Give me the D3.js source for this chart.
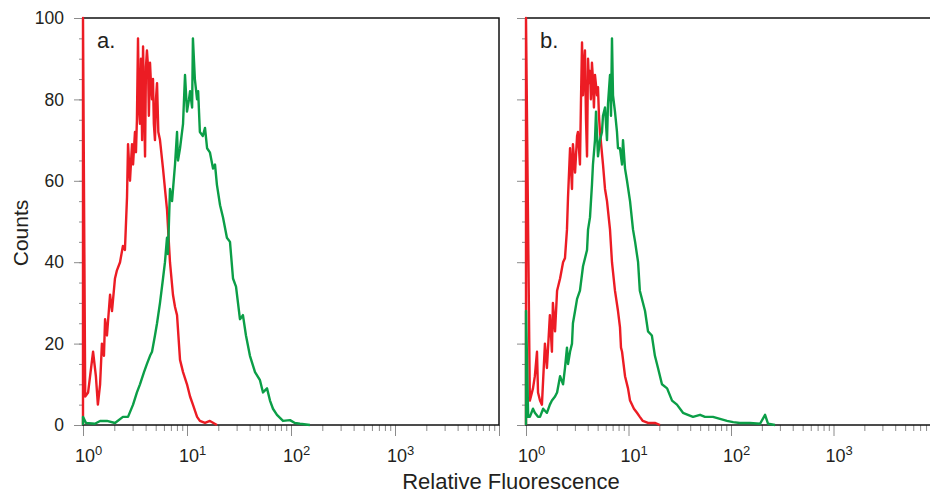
<!DOCTYPE html>
<html>
<head>
<meta charset="utf-8">
<script src="https://d3js.org/d3.v7.min.js"></script>
<style>
body { margin: 0; background: #fff; }
text { font-family: "Liberation Sans", Arial, sans-serif; fill: #231f20; }
</style>
</head>
<body>
<script>
// [relative fluorescence, counts]
var redA = [[1,120],[1.05,7],[1.12,8],[1.17,12],[1.25,18],[1.33,12],[1.39,5],[1.46,10],[1.52,20],[1.59,17],
  [1.63,26],[1.70,22],[1.82,32],[1.90,28],[2.03,36],[2.12,38],[2.27,40],[2.42,44],[2.53,43],[2.65,56],
  [2.71,69],[2.83,60],[2.96,69],[3.03,64],[3.16,72],[3.23,67],[3.30,75],[3.38,95],[3.45,78],[3.53,74],
  [3.61,90],[3.70,70],[3.78,93],[3.86,80],[3.95,66],[4.03,88],[4.12,92],[4.22,88],[4.30,76],[4.41,89],
  [4.50,84],[4.61,80],[4.71,85],[4.80,74],[4.92,70],[5.03,80],[5.15,84],[5.30,72],[5.50,70],[5.88,63],
  [6.14,58],[6.42,53],[6.86,40],[7.33,32],[7.67,29],[8.02,27],[8.57,16],[9.16,13],[10,10],[10.7,7],
  [11.4,5],[12.5,2],[13.3,1],[14.9,0.5],[16.6,1],[19.4,0]];

var greenA = [[1,2],[1.07,0.5],[1.30,0.3],[1.46,1],[1.70,1],[2.03,0.5],[2.42,2],[2.71,2],[3.03,5],[3.30,8],
  [3.53,10],[3.86,13],[4.12,15],[4.41,17],[4.61,18],[4.92,22],[5.15,25],[5.50,30],[5.88,36],[6.14,40],
  [6.42,46],[6.56,42],[6.86,58],[7.18,55],[7.67,64],[8.02,72],[8.19,65],[8.57,68],[9.16,74],[9.57,86],
  [10,77],[10.45,80],[10.7,82],[11.2,78],[11.4,95],[11.9,85],[12.5,80],[12.8,82],[13.3,72],[14.2,71],
  [14.9,73],[15.6,68],[16.6,67],[17.8,63],[18.6,64],[19.4,59],[20.8,54],[22.2,51],[24.2,46],[25.9,45],
  [27.7,36],[29.6,34],[32.3,26],[34.5,27],[36.9,22],[40.3,17],[45.1,13],[50.3,11],[53.8,8],[58.8,9],
  [62.8,6],[67.1,4],[73.3,2.5],[83.8,1],[97.8,1.2],[109,0.5],[122,0.3],[152,0]];

var redB = [[1,120],[1.09,6],[1.17,9],[1.22,12],[1.28,18],[1.31,8],[1.37,6],[1.43,5],[1.53,20],[1.60,14],
  [1.71,27],[1.79,18],[1.83,30],[1.92,23],[2.01,33],[2.15,36],[2.30,40],[2.40,41],[2.51,48],[2.57,56],
  [2.69,68],[2.81,58],[2.87,69],[3.01,62],[3.15,71],[3.21,72],[3.36,64],[3.44,80],[3.52,94],[3.60,81],
  [3.68,88],[3.76,92],[3.85,75],[3.94,66],[4.03,90],[4.12,84],[4.21,87],[4.30,80],[4.40,89],[4.50,85],
  [4.60,78],[4.71,86],[4.93,81],[5.04,83],[5.15,76],[5.27,72],[5.64,64],[5.90,58],[6.17,55],[6.60,48],
  [6.90,40],[7.38,33],[7.90,28],[8.26,24],[8.45,19],[8.65,18],[9.25,12],[9.89,9],[10.35,6],[11.3,4],
  [12.1,3],[12.9,2],[13.8,1],[15.5,0.5],[18.1,0.5],[20.3,0]];

var greenB = [[1,28],[1.05,2],[1.09,2],[1.17,4],[1.22,3],[1.31,2],[1.37,2],[1.47,4],[1.53,3.5],[1.60,3],
  [1.71,5],[1.79,6],[1.92,7],[2.01,8],[2.15,12],[2.30,10],[2.40,14],[2.51,19],[2.57,15],[2.69,18],
  [2.81,20],[2.87,25],[3.01,28],[3.15,31],[3.36,33],[3.60,39],[3.94,43],[4.03,48],[4.21,51],[4.40,59],
  [4.50,64],[4.71,70],[4.82,77],[5.04,66],[5.27,70],[5.51,72],[5.64,76],[5.90,78],[6.17,70],[6.31,79],
  [6.60,86],[6.75,76],[6.90,95],[7.06,81],[7.38,77],[7.72,72],[7.90,68],[8.26,68],[8.65,64],[8.84,70],
  [9.25,63],[9.67,60],[10.35,55],[11.07,48],[11.6,45],[12.4,40],[12.9,33],[14.5,28],[15.5,23],[16.9,22],
  [18.1,17],[19.4,14],[21.2,10],[23.8,9],[26.6,6],[29.7,5],[34.0,3],[38.0,2.5],[42.6,2],[49.9,2.5],
  [55.7,2],[66.7,2],[78.1,1.5],[91.4,1],[105,0.7],[122,0.5],[153,0.5],[192,0.3],[215,2.5],[230,0.3],[269,0]];

var yMajor = [0, 20, 40, 60, 80, 100];
var yMinor = d3.range(0, 101, 5);
var decades = [1, 10, 100, 1000, 10000];
var decadeExp = ["0", "1", "2", "3"];

var plotTop = 18, plotBottom = 425;
var redColor = "#ec1c24", greenColor = "#0b9e47";

var svg = d3.select("body").append("svg")
  .attr("width", 930)
  .attr("height", 493);

var panels = [
  { left: 83, right: 499, label: "a.", red: redA, green: greenA, yLabels: true },
  { left: 526, right: 936, label: "b.", red: redB, green: greenB, yLabels: false }
];

var xMinor = [];
decades.slice(0, 4).forEach(function(d) {
  for (var k = 2; k <= 9; k++) xMinor.push(d * k);
});

panels.forEach(function(p) {
  var x = d3.scaleLog().domain([1, 10000]).range([p.left, p.right]);
  var y = d3.scaleLinear().domain([0, 100]).range([plotBottom, plotTop]).clamp(true);
  var g = svg.append("g");

  // ticks
  var gx1 = g.append("g").attr("transform", "translate(0," + plotBottom + ")")
    .call(d3.axisBottom(x).tickValues(xMinor).tickSize(6).tickFormat(""));
  var gx2 = g.append("g").attr("transform", "translate(0," + plotBottom + ")")
    .call(d3.axisBottom(x).tickValues(decades).tickSize(11).tickFormat(""));
  var gy1 = g.append("g").attr("transform", "translate(" + p.left + ",0)")
    .call(d3.axisLeft(y).tickValues(yMinor).tickSize(4).tickFormat(""));
  var gy2 = g.append("g").attr("transform", "translate(" + p.left + ",0)")
    .call(d3.axisLeft(y).tickValues(yMajor).tickSize(9).tickPadding(10)
      .tickFormat(p.yLabels ? d3.format("d") : ""));
  [gx1, gx2, gy1, gy2].forEach(function(a) {
    a.select(".domain").remove();
    a.selectAll("line").attr("stroke", "#8c8c8c").attr("stroke-width", 1);
  });
  gy2.selectAll("text").attr("font-size", 17.5).attr("fill", "#231f20")
    .attr("font-family", "Liberation Sans, Arial, sans-serif");

  // decade labels
  var lab = g.selectAll(".xlab").data(decades.slice(0, 4)).enter().append("text")
    .attr("class", "xlab")
    .attr("x", function(d) { return x(d) - 8; })
    .attr("y", 462)
    .attr("font-size", 18);
  lab.append("tspan").text("10");
  lab.append("tspan").attr("dy", -7.5).attr("font-size", 13)
    .text(function(d, i) { return decadeExp[i]; });

  // frame
  g.append("rect")
    .attr("x", p.left).attr("y", plotTop)
    .attr("width", p.right - p.left).attr("height", plotBottom - plotTop)
    .attr("fill", "none").attr("stroke", "#111").attr("stroke-width", 1.5);

  var line = d3.line()
    .x(function(d) { return x(d[0]); })
    .y(function(d) { return y(d[1]); });

  [[p.red, redColor], [p.green, greenColor]].forEach(function(s) {
    var pts = [[s[0][0][0], 0]].concat(s[0]);
    g.append("path")
      .attr("d", line(pts))
      .attr("fill", "none")
      .attr("stroke", s[1])
      .attr("stroke-width", 2.4)
      .attr("stroke-linejoin", "round");
  });

  g.append("text")
    .attr("x", p.left + 14)
    .attr("y", 48)
    .attr("font-size", 22)
    .text(p.label);
});

svg.append("text")
  .attr("transform", "translate(28,233) rotate(-90)")
  .attr("text-anchor", "middle")
  .attr("font-size", 21)
  .text("Counts");

svg.append("text")
  .attr("x", 511)
  .attr("y", 489)
  .attr("text-anchor", "middle")
  .attr("font-size", 22)
  .text("Relative Fluorescence");
</script>
</body>
</html>
